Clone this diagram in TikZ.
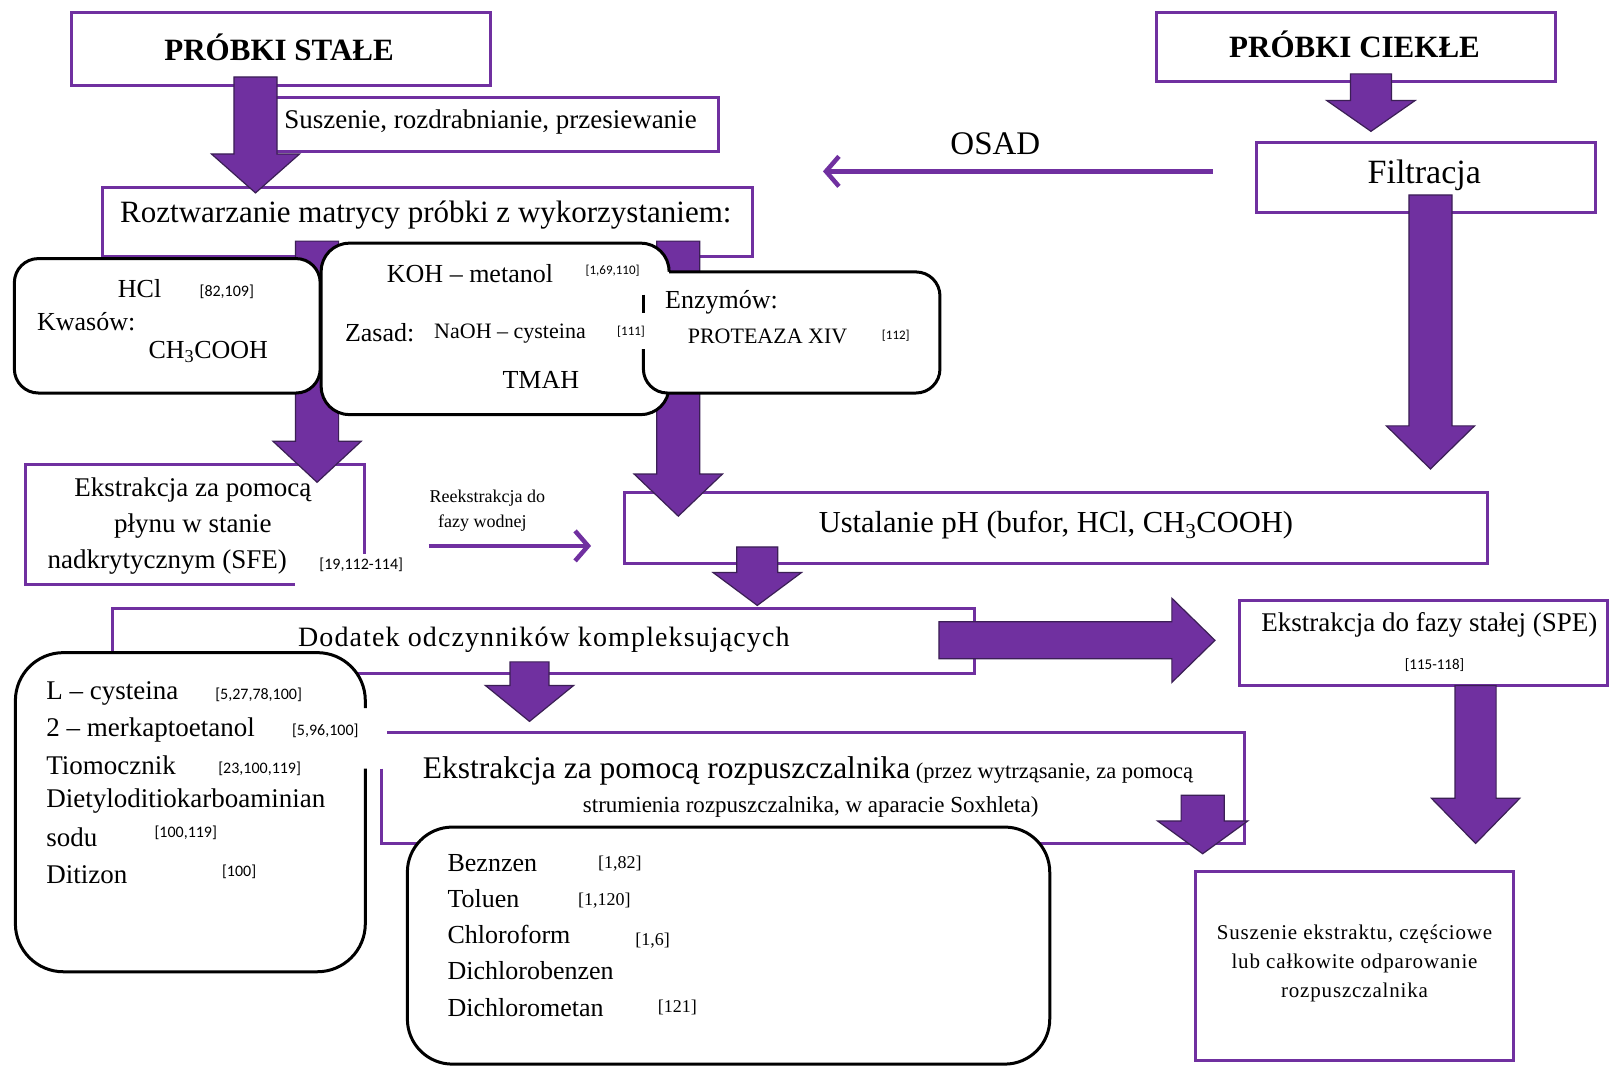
\documentclass[tikz,border=0pt]{standalone}
\usepackage{fontspec}
\setmainfont{Liberation Serif}
\newfontfamily\citefont{Carlito}
\usetikzlibrary{fit,arrows.meta}
\definecolor{flowviolet}{HTML}{7030A0}
\definecolor{arrowedge}{HTML}{3B1F55}
\newcommand\fsz[2]{\fontsize{#1}{#2}\selectfont}
% downward block arrow: x, top, neck, tip, half shaft, half head
\newcommand\downblock[6]{%
  \filldraw[blockarrow] (#1-#5,#2) -- (#1+#5,#2) -- (#1+#5,#3) -- (#1+#6,#3)
    -- (#1,#4) -- (#1-#6,#3) -- (#1-#5,#3) -- cycle;}
% rightward block arrow: y, left, neck, tip, half shaft, half head
\newcommand\rightblock[6]{%
  \filldraw[blockarrow] (#2,#1-#5) -- (#3,#1-#5) -- (#3,#1-#6) -- (#4,#1)
    -- (#3,#1+#6) -- (#3,#1+#5) -- (#2,#1+#5) -- cycle;}
\tikzset{
  flowbox/.style={draw=flowviolet, line width=3pt, fill=white, inner sep=0pt},
  roundbox/.style={draw=black, line width=3pt, fill=white, inner sep=0pt, rounded corners=#1},
  roundbox/.default=26pt,
  boxfill/.style={fill=white, inner sep=0pt},
  edgeviolet/.style={draw=flowviolet, line width=3pt},
  edgeblack/.style={draw=black, line width=3pt},
  blockarrow/.style={fill=flowviolet, draw=arrowedge, line width=1.2pt},
  thinarrow/.style={draw=flowviolet, line width=4.5pt, -{Straight Barb[length=13pt, width=30pt]}},
  lbl/.style={inner sep=0pt, font=\fsz{27}{32}},
  cite/.style={inner sep=0pt, font=\citefont\fsz{16}{19}},
  smallcite/.style={inner sep=0pt, font=\citefont\fsz{13}{16}},
  sercite/.style={inner sep=0pt, font=\fsz{18}{22}},
}
\begin{document}
\begin{tikzpicture}[x=1.026pt, y=-1.026pt]
\useasboundingbox (0,0) rectangle (1568,1040);
\fill[white] (0,0) rectangle (1568,1040);

% ---- rectangular stage boxes
\node[flowbox, fit={(70,12)(478,83)}] (solid) {};
\node[flowbox, fit={(1127,12)(1516,79)}] (liquid) {};
\node[flowbox, fit={(268,95)(700,148)}] (drying) {};
\node[flowbox, fit={(1224,139)(1555,207)}] (filtr) {};
\node[flowbox, fit={(609,480)(1450,549)}] (phadj) {};
\node[flowbox, fit={(110,593)(950,656)}] (complexing) {};
\node[flowbox, fit={(1208,585)(1567,668)}] (spe) {};
\node[flowbox, fit={(1165,849)(1475,1033)}] (evap) {};
\node[flowbox, fit={(100,183)(733,250)}] (digest) {};
% SFE box, its lower right corner left open
\node[boxfill, fit={(25,453)(355,570)}] (sfe) {};
\draw[edgeviolet] (287,570) -- (25,570) -- (25,453) -- (355,453) -- (355,540);
% solvent extraction box, its upper left corner left open
\node[boxfill, fit={(372,714)(1213,822)}] (lle) {};
\draw[edgeviolet] (372,749) -- (372,822) -- (1213,822) -- (1213,714) -- (377,714);

% ---- block arrows
\downblock{249}{75}{150}{188}{21}{43}
\downblock{1336}{72}{98}{128}{20}{43}
\downblock{1394}{190}{415}{457}{21}{43}
\downblock{309}{235}{430}{470}{21}{43}
\downblock{661}{235}{462}{503}{21}{43}
\downblock{738}{533}{558}{590}{20}{43}
\downblock{516}{645}{668}{703}{19}{43}
\downblock{1438}{668}{778}{822}{20}{43}
\downblock{1172}{775}{800}{832}{21}{44}
\rightblock{624}{915}{1142}{1184}{18}{41}

% ---- rounded reagent boxes
\node[roundbox=24pt, fit={(14,252)(312,383)}] (acids) {};
\node[roundbox=28pt, fit={(313,237)(652,404)}] (bases) {};
\node[boxfill, rounded corners=24pt, fit={(627,265)(916,383)}] (enzymes) {};
\draw[edgeblack] (627,287) -- (627,305);
\draw[edgeblack, rounded corners=24pt] (627,340) -- (627,383) -- (916,383) -- (916,265) -- (652,265);
\node[boxfill, rounded corners=48pt, fit={(15,636)(356,947)}] (agents) {};
\draw[edgeblack, rounded corners=48pt] (356,749) -- (356,947) -- (15,947) -- (15,636) -- (356,636) -- (356,690);
\node[roundbox=45pt, fit={(397,806)(1023,1037)}] (solvents) {};

% ---- thin arrows
\coordinate (osadfrom) at (1182,167);
\coordinate (osadto) at (802,167);
\draw[thinarrow] (osadfrom) -- (osadto);
\coordinate (reexfrom) at (418,532);
\coordinate (reexto) at (576,532);
\draw[thinarrow] (reexfrom) -- (reexto);

% ---- texts
\node[lbl, font=\bfseries\fsz{31}{37}] (tsolid) at (272,46) {PRÓBKI STAŁE};
\node[lbl, font=\bfseries\fsz{31}{37}] (tliquid) at (1320,43) {PRÓBKI CIEKŁE};
\node[lbl, font=\fsz{27}{32}] (tdry) at (478,119) {Suszenie, rozdrabnianie, przesiewanie};
\node[lbl, font=\fsz{31}{37}] (tdigest) at (415,210) {Roztwarzanie matrycy próbki z wykorzystaniem:};
\node[lbl, font=\fsz{33}{38}] (tosad) at (970,140) {OSAD};
\node[lbl, font=\fsz{34}{40}] (tfiltr) at (1388,171) {Filtracja};

\node[lbl, font=\fsz{26}{31}] (thcl) at (136,281) {HCl};
\node[cite] (c1) at (221,284) {[82,109]};
\node[lbl, font=\fsz{26}{31}] (tacid) at (84,313) {Kwasów:};
\node[lbl, font=\fsz{26}{31}] (tacetic) at (203,343) {CH\textsubscript{3}COOH};

\node[lbl, font=\fsz{26}{31}] (tkoh) at (458,267) {KOH – metanol};
\node[smallcite, fill=white, minimum width=40pt, minimum height=24pt] (c2) at (597,264) {[1,69,110]};
\node[lbl, font=\fsz{26}{31}] (tbase) at (370,324) {Zasad:};
\node[lbl, font=\fsz{22}{26}] (tnaoh) at (497,325) {NaOH – cysteina};
\node[smallcite, fill=white, minimum width=40pt, minimum height=36pt] (c3) at (615,323) {[111]};
\node[lbl, font=\fsz{26}{31}] (ttmah) at (527,370) {TMAH};

\node[lbl, font=\fsz{26}{31}, anchor=west] (tenz) at (648,295) {Enzymów:};
\node[lbl, font=\fsz{22}{26}] (tprot) at (748,328) {PROTEAZA XIV};
\node[smallcite] (c4) at (873,327) {[112]};

\node[lbl, font=\fsz{27}{32}] (tsfe1) at (188,478) {Ekstrakcja za pomocą};
\node[lbl, font=\fsz{27}{32}] (tsfe2) at (188,513) {płynu w stanie};
\node[lbl, font=\fsz{27}{32}] (tsfe3) at (163,548) {nadkrytycznym (SFE)};
\node[cite] (c5) at (352,550) {[19,112-114]};

\node[lbl, font=\fsz{18}{22}] (treex1) at (475,485) {Reekstrakcja do};
\node[lbl, font=\fsz{18}{22}] (treex2) at (470,510) {fazy wodnej};

\node[lbl, font=\fsz{30.5}{36}] (tph) at (1029,512) {Ustalanie pH (bufor, HCl, CH\textsubscript{3}COOH)};
\node[lbl, font=\fsz{28}{34}\addfontfeatures{LetterSpace=4}] (tcomp) at (530,623) {Dodatek odczynników kompleksujących};
\node[lbl, font=\fsz{27}{32}] (tspe) at (1393,609) {Ekstrakcja do fazy stałej (SPE)};
\node[cite, font=\citefont\fsz{15}{18}] (c6) at (1398,648) {[115-118]};

\node[lbl, font=\fsz{27}{32}, anchor=west] (a1) at (45,676) {L – cysteina};
\node[cite] (c7) at (252,677) {[5,27,78,100]};
\node[lbl, font=\fsz{27}{32}, anchor=west] (a2) at (45,711) {2 – merkaptoetanol};
\node[cite] (c8) at (317,712) {[5,96,100]};
\node[lbl, font=\fsz{27}{32}, anchor=west] (a3) at (45,746) {Tiomocznik};
\node[cite] (c9) at (253,749) {[23,100,119]};
\node[lbl, font=\fsz{27}{32}, anchor=west] (a4) at (45,781) {Dietyloditiokarboaminian};
\node[lbl, font=\fsz{27}{32}, anchor=west] (a5) at (45,816) {sodu};
\node[cite] (c10) at (181,812) {[100,119]};
\node[lbl, font=\fsz{27}{32}, anchor=west] (a6) at (45,852) {Ditizon};
\node[cite] (c11) at (233,850) {[100]};

\node[lbl, anchor=west] (tlle1) at (412,751) {{\fsz{31.5}{37}Ekstrakcja za pomocą rozpuszczalnika}{\fsz{22.5}{27} (przez wytrząsanie, za pomocą}};
\node[lbl, font=\fsz{23}{27}] (tlle2) at (790,786) {strumienia rozpuszczalnika, w aparacie Soxhleta)};

\node[lbl, font=\fsz{26}{31}, anchor=west] (s1) at (436,841) {Beznzen};
\node[sercite] (c12) at (604,842) {[1,82]};
\node[lbl, font=\fsz{26}{31}, anchor=west] (s2) at (436,876) {Toluen};
\node[sercite] (c13) at (589,878) {[1,120]};
\node[lbl, font=\fsz{26}{31}, anchor=west] (s3) at (436,911) {Chloroform};
\node[sercite] (c14) at (636,917) {[1,6]};
\node[lbl, font=\fsz{26}{31}, anchor=west] (s4) at (436,946) {Dichlorobenzen};
\node[lbl, font=\fsz{26}{31}, anchor=west] (s5) at (436,982) {Dichlorometan};
\node[sercite] (c15) at (660,982) {[121]};

\node[lbl, font=\fsz{21}{25}\addfontfeatures{LetterSpace=4}, align=center] (tevap) at (1320,939)
  {Suszenie ekstraktu, częściowe\\[4pt] lub całkowite odparowanie\\[4pt] rozpuszczalnika};
\end{tikzpicture}
\end{document}
